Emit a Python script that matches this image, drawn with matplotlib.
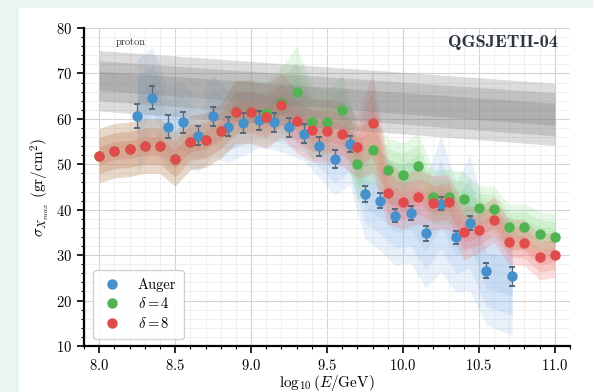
import numpy as np
import matplotlib
matplotlib.use('Agg')
from matplotlib import pyplot as plt
from matplotlib.ticker import MultipleLocator
from matplotlib.patches import Rectangle

plt.rcParams['font.family'] = 'serif'
plt.rcParams['font.serif'] = ['cmr10', 'DejaVu Serif']
plt.rcParams['mathtext.fontset'] = 'cm'
plt.rcParams['axes.formatter.use_mathtext'] = True

# Auger data
auger_x = [8.25, 8.35, 8.45, 8.55, 8.65, 8.75, 8.85, 8.95, 9.05, 9.15, 9.25, 9.35, 9.45,
           9.55, 9.65, 9.75, 9.85, 9.95, 10.05, 10.15, 10.25, 10.35, 10.44, 10.55, 10.72]
auger_y = [60.6, 64.7, 58.3, 59.2, 56.3, 60.6, 58.3, 59.0, 59.7, 59.2, 58.1, 56.7, 54.0,
           51.2, 54.5, 43.5, 42.0, 38.7, 39.3, 34.8, 41.3, 33.9, 37.1, 26.6, 25.3]
auger_err = [2.7, 2.6, 2.5, 2.4, 2.1, 2.1, 2.0, 2.2, 2.1, 2.1, 2.1, 2.1, 2.1,
             2.0, 1.8, 1.7, 1.7, 1.5, 1.5, 1.6, 1.4, 1.5, 1.5, 1.6, 2.0]
auger_spread = [12.5, 11, 9, 9, 8, 9, 8, 7, 6, 6, 6, 6, 7,
                8, 9, 10, 11, 11, 11, 12, 15, 12, 15, 12, 13]

# simulations, delta = 4 and delta = 8
sim_x = [8.0, 8.1, 8.2, 8.3, 8.4, 8.5, 8.6, 8.7, 8.8, 8.9, 9.0, 9.1, 9.2, 9.3, 9.4, 9.5,
         9.6, 9.7, 9.8, 9.9, 10.0, 10.1, 10.2, 10.3, 10.4, 10.5, 10.6, 10.7, 10.8, 10.9, 11.0]
d8_y = [51.9, 53.0, 53.3, 54.0, 54.0, 51.2, 54.8, 55.3, 57.4, 61.5, 61.5, 60.5, 63.0, 59.5, 57.5, 57.3,
        56.7, 53.8, 59.1, 43.7, 41.8, 42.9, 41.4, 41.8, 35.0, 35.5, 37.8, 32.9, 32.7, 29.6, 30.1]
d8_spread = [6, 6, 6, 6, 6, 6, 6, 6, 6, 7, 7, 7, 7, 7, 7, 7,
             7, 7, 11, 7, 6, 6, 6, 6, 6, 5, 5, 5, 5, 5, 5]
d4_y = [51.9, 53.0, 53.3, 54.0, 54.0, 51.2, 54.8, 55.3, 57.4, 61.5, 61.6, 61.2, 63.4, 66.0, 59.2, 59.2,
        61.9, 50.0, 53.2, 48.8, 47.7, 49.7, 42.8, 42.9, 42.3, 40.3, 40.1, 36.1, 36.3, 34.6, 34.0]
d4_spread = [6, 6, 6, 6, 6, 6, 6, 6, 6, 7, 7, 7, 8, 10, 8, 7,
             8, 8, 7, 7, 7, 7, 6, 6, 6, 5, 5, 5, 5, 5, 5]

# proton prediction (QGSJETII-04): centre and half widths at both ends
proton_x = [8.0, 11.0]
proton_mid = [68.4, 61.0]
proton_w1 = [2.1, 2.45]
proton_w2 = [4.4, 4.75]
proton_w3 = [6.65, 6.85]

fig = plt.figure(figsize=(5.93, 3.92), dpi=100)
fig.patch.set_facecolor('#ebf5f0')
fig.patches.append(Rectangle((19 / 593, 0), 1, 1 - 8 / 392, transform=fig.transFigure,
                             facecolor='white', edgecolor='none', zorder=-10))
ax = fig.add_axes([84 / 593, 1 - 346 / 392, 486 / 593, 318 / 392])
ax.set_facecolor('none')


def bands(x, y, spread, color, alpha):
    x = np.array(x)
    y = np.array(y)
    s = np.array(spread)
    for f in (1.0, 0.66, 0.33):
        ax.fill_between(x, y - f * s, y + f * s, color=color, alpha=alpha, lw=0, zorder=1)


bands(auger_x, auger_y, auger_spread, '#8cb8e6', 0.2)
bands(sim_x, d4_y, d4_spread, '#7ed87e', 0.2)
bands(sim_x, d8_y, d8_spread, '#f26a6a', 0.22)

pm = np.array(proton_mid)
for w in (proton_w3, proton_w2, proton_w1):
    w = np.array(w)
    ax.fill_between(proton_x, pm - w, pm + w, color='#7a7a7a', alpha=0.26, lw=0, zorder=2)

ax.errorbar(auger_x, auger_y, yerr=auger_err, fmt='none', ecolor='#56687a',
            elinewidth=0.9, capsize=2.5, capthick=1.4, zorder=4)
ax.plot(auger_x, auger_y, 'o', color='#4690cb', ms=6.5, label='Auger', zorder=5)
ax.plot(sim_x, d4_y, 'o', color='#52b352', ms=6.5, label=r'$\delta = 4$', zorder=5)
ax.plot(sim_x, d8_y, 'o', color='#e04c4c', ms=6.5, label=r'$\delta = 8$', zorder=6)

ax.set_xlim(7.9, 11.1)
ax.set_ylim(10, 80)
ax.xaxis.set_major_locator(MultipleLocator(0.5))
ax.xaxis.set_minor_locator(MultipleLocator(0.1))
ax.yaxis.set_major_locator(MultipleLocator(10))
ax.yaxis.set_minor_locator(MultipleLocator(2))
ax.grid(which='major', color='#d4d4d4', lw=0.8)
ax.grid(which='minor', color='#ececec', lw=0.6)
ax.set_axisbelow(True)
for s in ('top', 'right'):
    ax.spines[s].set_visible(False)
for s in ('left', 'bottom'):
    ax.spines[s].set_linewidth(1.6)
ax.tick_params(which='major', length=5, width=1.2, labelsize=10.5)
ax.tick_params(which='minor', length=2.5, width=0.8)

ax.set_xlabel(r'$\log_{10}(E/\mathrm{GeV})$', fontsize=11, labelpad=0)
ax.set_ylabel(r'$\sigma_{X_{max}}$ (gr/cm$^2$)', fontsize=11, labelpad=4)

ax.text(8.11, 76.9, 'proton', fontsize=7.5, va='center', ha='left', color='#333333')
ax.text(11.02, 76.7, 'QGSJETII-04', fontsize=13, va='center', ha='right',
        family='cmb10', color='#2a3540')

leg = ax.legend(loc='lower left', fontsize=10.5, handletextpad=1.0, borderpad=0.55,
                labelspacing=0.3, framealpha=0.9, edgecolor='#cccccc', fancybox=True,
                handlelength=1.5, bbox_to_anchor=(0.004, 0.0))

fig.savefig('out.png', dpi=100, facecolor=fig.get_facecolor())
